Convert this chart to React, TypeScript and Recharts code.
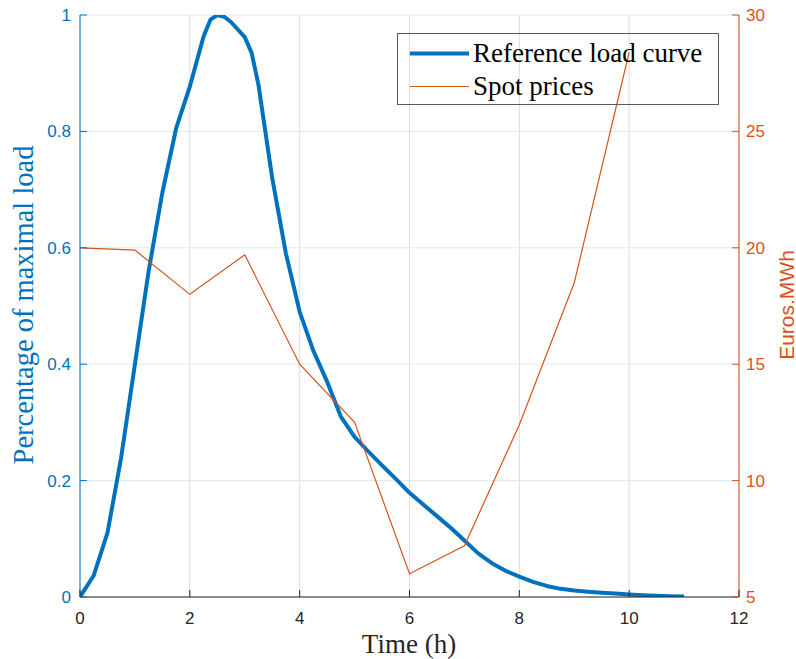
import { CartesianGrid, Line, LineChart, XAxis, YAxis } from 'recharts';

const TIME = [
  0, 0.25, 0.5, 0.75, 1, 1.25, 1.5, 1.75, 2, 2.25, 2.375, 2.5, 2.625, 2.75, 3, 3.125, 3.25, 3.5,
  3.75, 4, 4.25, 4.5, 4.75, 5, 5.25, 5.5, 5.75, 6, 6.25, 6.5, 6.75, 7, 7.25, 7.5, 7.75, 8, 8.25,
  8.5, 8.75, 9, 9.25, 9.5, 9.75, 10, 10.25, 10.5, 10.75, 11,
];
const LOAD = [
  0, 0.037, 0.11, 0.24, 0.4, 0.56, 0.695, 0.805, 0.877, 0.963, 0.992, 1.0, 0.997, 0.988, 0.962,
  0.935, 0.88, 0.72, 0.59, 0.49, 0.423, 0.37, 0.31, 0.275, 0.25, 0.226, 0.203, 0.179, 0.159,
  0.139, 0.119, 0.097, 0.075, 0.058, 0.045, 0.035, 0.026, 0.019, 0.014, 0.011, 0.009, 0.0075,
  0.006, 0.0045, 0.003, 0.002, 0.0015, 0.001,
];
const PRICE_HOURS = [0, 1, 2, 3, 4, 5, 6, 7, 8, 9, 10];
const PRICES = [20, 19.9, 18, 19.7, 15, 12.5, 6, 7.2, 12.4, 18.5, 28.4];

const X_TICKS = [0, 2, 4, 6, 8, 10, 12];
const LEFT_TICKS = [0, 0.2, 0.4, 0.6, 0.8, 1];
const RIGHT_TICKS = [5, 10, 15, 20, 25, 30];

const SERIES_NAMES = ['Reference load curve', 'Spot prices'];

const BLUE = '#0072BD';
const ORANGE = '#D95319';
const DARK = '#262626';

// plot box in page pixels
const PL = 80;
const PR = 739;
const PT = 15;
const PB = 597;
const TICK_LEN = 7;

const SANS = '"Liberation Sans", Arial, sans-serif';
const SERIF = '"Liberation Serif", "Times New Roman", serif';

const loadData = TIME.map((t, i) => ({ t, load: LOAD[i] }));
const priceData = PRICE_HOURS.map((t, i) => ({ t, price: PRICES[i] }));

function BottomTick({ x, payload }: any) {
  return (
    <g>
      <line x1={x} x2={x} y1={PB} y2={PB - TICK_LEN} stroke={DARK} />
      <text x={x} y={624} textAnchor="middle" fill={DARK} fontSize={17} fontFamily={SANS}>
        {payload.value}
      </text>
    </g>
  );
}

function TopTick({ x }: any) {
  return <line x1={x} x2={x} y1={PT} y2={PT + TICK_LEN} stroke={DARK} />;
}

function LeftTick({ y, payload }: any) {
  return (
    <g>
      <line x1={PL} x2={PL + TICK_LEN} y1={y} y2={y} stroke={BLUE} />
      <text x={71} y={y + 6} textAnchor="end" fill={BLUE} fontSize={17} fontFamily={SANS}>
        {payload.value}
      </text>
    </g>
  );
}

function RightTick({ y, payload }: any) {
  return (
    <g>
      <line x1={PR} x2={PR - TICK_LEN} y1={y} y2={y} stroke={ORANGE} />
      <text x={746} y={y + 6} textAnchor="start" fill={ORANGE} fontSize={17} fontFamily={SANS}>
        {payload.value}
      </text>
    </g>
  );
}

export default function App() {
  return (
    <div style={{ position: 'absolute', left: 0, top: 0, width: 796, height: 659, background: '#fff' }}>
      <LineChart width={796} height={659} margin={{ top: PT, right: 0, bottom: 0, left: 0 }}>
        <CartesianGrid
          xAxisId="bottom"
          yAxisId="left"
          horizontal={false}
          stroke="#DEDEDE"
          verticalValues={X_TICKS}
        />
        <CartesianGrid
          xAxisId="bottom"
          yAxisId="left"
          vertical={false}
          stroke="#D9EAF5"
          horizontalValues={LEFT_TICKS}
        />
        <XAxis
          xAxisId="bottom"
          dataKey="t"
          type="number"
          domain={[0, 12]}
          ticks={X_TICKS}
          allowDataOverflow
          height={659 - PB}
          axisLine={{ stroke: DARK }}
          tickLine={false}
          tick={<BottomTick />}
          label={() => (
            <text x={409} y={653} textAnchor="middle" fill={DARK} fontSize={27} fontFamily={SERIF}>
              Time (h)
            </text>
          )}
        />
        <XAxis
          xAxisId="top"
          orientation="top"
          dataKey="t"
          type="number"
          domain={[0, 12]}
          ticks={X_TICKS}
          allowDataOverflow
          height={0}
          axisLine={{ stroke: DARK }}
          tickLine={false}
          tick={<TopTick />}
        />
        <YAxis
          yAxisId="left"
          orientation="left"
          type="number"
          domain={[0, 1]}
          ticks={LEFT_TICKS}
          allowDataOverflow
          width={PL}
          axisLine={{ stroke: BLUE }}
          tickLine={false}
          tick={<LeftTick />}
          label={() => (
            <text
              x={23}
              y={305}
              transform="rotate(-90 23 305)"
              textAnchor="middle"
              dominantBaseline="central"
              fill={BLUE}
              fontSize={28.5}
              fontFamily={SERIF}
            >
              Percentage of maximal load
            </text>
          )}
        />
        <YAxis
          yAxisId="right"
          orientation="right"
          type="number"
          domain={[5, 30]}
          ticks={RIGHT_TICKS}
          allowDataOverflow
          width={796 - PR}
          axisLine={{ stroke: ORANGE }}
          tickLine={false}
          tick={<RightTick />}
          label={() => (
            <text
              x={786}
              y={305}
              transform="rotate(-90 786 305)"
              textAnchor="middle"
              dominantBaseline="central"
              fill={ORANGE}
              fontSize={21}
              fontFamily={SANS}
            >
              Euros.MWh
            </text>
          )}
        />
        <Line
          xAxisId="bottom"
          yAxisId="left"
          data={loadData}
          dataKey="load"
          name={SERIES_NAMES[0]}
          type="linear"
          stroke={BLUE}
          strokeWidth={4}
          strokeLinejoin="round"
          dot={false}
          isAnimationActive={false}
        />
        <Line
          xAxisId="bottom"
          yAxisId="right"
          data={priceData}
          dataKey="price"
          name={SERIES_NAMES[1]}
          type="linear"
          stroke={ORANGE}
          strokeWidth={1.2}
          dot={false}
          isAnimationActive={false}
        />
      </LineChart>
      <div
        style={{
          position: 'absolute',
          left: 397,
          top: 33,
          width: 322,
          height: 72,
          boxSizing: 'border-box',
          border: '1.5px solid #5a5a5a',
          paddingTop: 3,
          fontFamily: SERIF,
          fontSize: 27,
          color: '#000',
        }}
      >
        {SERIES_NAMES.map((name, i) => (
          <div key={name} style={{ display: 'flex', alignItems: 'center', height: 33 }}>
            <svg width={75} height={33} style={{ flex: 'none' }}>
              <line
                x1={12}
                x2={71}
                y1={16.5}
                y2={16.5}
                stroke={i === 0 ? BLUE : ORANGE}
                strokeWidth={i === 0 ? 4 : 1.2}
              />
            </svg>
            <span style={{ whiteSpace: 'nowrap', lineHeight: '33px' }}>{name}</span>
          </div>
        ))}
      </div>
    </div>
  );
}
